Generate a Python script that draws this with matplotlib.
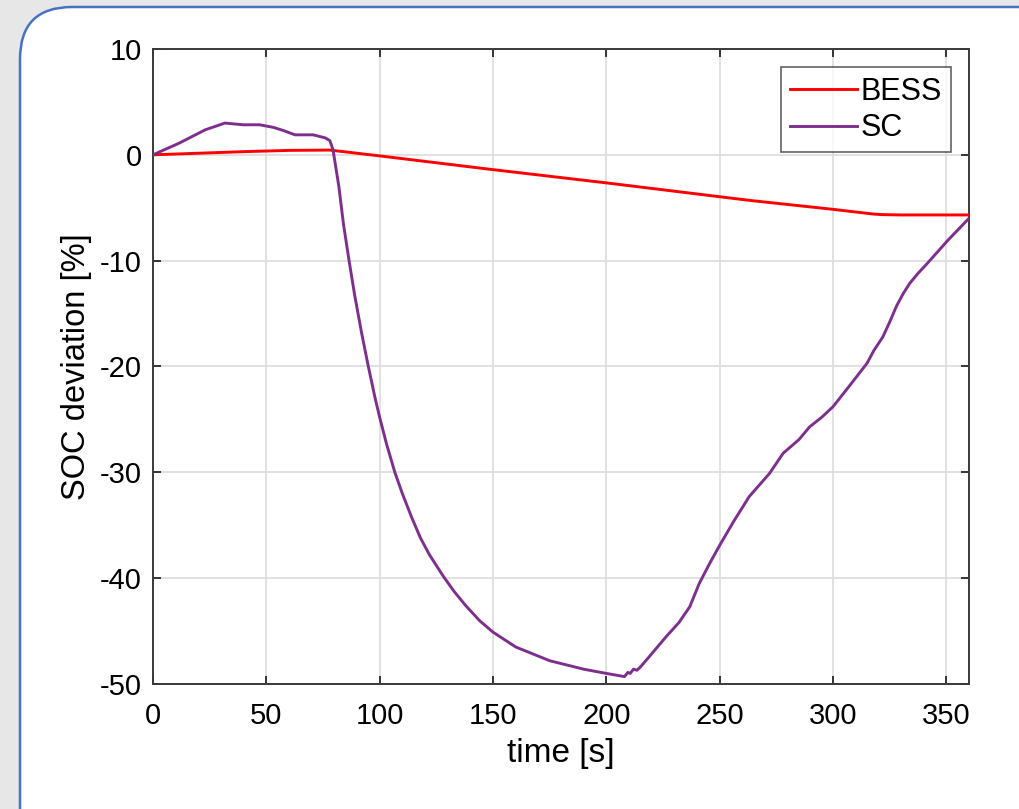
import matplotlib
matplotlib.use("Agg")
import matplotlib.pyplot as plt
from matplotlib.patches import FancyBboxPatch
from matplotlib.transforms import IdentityTransform

plt.rcParams['font.family'] = ['Liberation Sans', 'DejaVu Sans']
plt.rcParams['axes.unicode_minus'] = False

# Data
bess_t = [0, 20, 40, 60, 78, 100, 150, 200, 263, 300, 312, 318, 322, 330, 360]
bess_v = [0, 0.15, 0.3, 0.42, 0.45, -0.1, -1.4, -2.65, -4.3, -5.15, -5.45, -5.6, -5.65, -5.68, -5.68]

sc_t = [0, 11.5, 23, 31.7, 39.8, 47, 53, 57.5, 62.6, 70.7, 76, 78, 79.4, 82, 84, 86.5, 89, 92, 95,
        98, 100, 103, 106.7, 110, 114, 118, 122, 128, 133, 138, 144, 150, 160, 175, 190, 200,
        208, 209.5, 210.5, 212, 213.5, 215, 219, 226.5, 232, 236.8, 241, 245.6, 250, 256, 263, 272,
        278, 285, 289.7, 295, 300, 307, 315, 318, 322, 325, 328, 331, 334, 337.5, 341, 346, 351, 360]
sc_v = [0, 1.1, 2.36, 3.0, 2.84, 2.84, 2.6, 2.3, 1.89, 1.89, 1.6, 1.35, 0.5, -3.0, -6.5, -10, -13.3, -16.8, -20,
        -23, -24.8, -27.3, -30, -32.0, -34.2, -36.2, -37.8, -39.8, -41.3, -42.6, -44.0, -45.1, -46.5, -47.8, -48.6, -49.0,
        -49.3, -48.9, -49.0, -48.6, -48.7, -48.4, -47.4, -45.5, -44.2, -42.7, -40.5, -38.6, -36.9, -34.7, -32.3, -30.1,
        -28.2, -26.9, -25.7, -24.8, -23.8, -21.9, -19.7, -18.5, -17.2, -15.8, -14.3, -13.1, -12.1, -11.2, -10.4, -9.2, -8.0, -6.0]

xticks = [0, 50, 100, 150, 200, 250, 300, 350]
yticks = [10, 0, -10, -20, -30, -40, -50]

W, H = 1019, 809
fig = plt.figure(figsize=(W / 100, H / 100), dpi=100)
fig.patch.set_facecolor('#e7e7e7')

# rounded white panel with blue border (pixel coordinates)
box = FancyBboxPatch((20, -80), 1150, (H - 7) + 80,
                     boxstyle="round,pad=0,rounding_size=52",
                     transform=IdentityTransform(), facecolor='white',
                     edgecolor='#4472C4', linewidth=1.8, zorder=-5)
fig.patches.append(box)

ax = fig.add_axes([153 / W, 1 - 684 / H, (969 - 153) / W, (684 - 49) / H])
ax.set_zorder(2)
ax.set_facecolor('white')

ax.plot(bess_t, bess_v, color='#FF0000', lw=2.1, label='BESS', zorder=3)
ax.plot(sc_t, sc_v, color='#7E2F8E', lw=2.1, label='SC', zorder=3)

ax.set_xlim(0, 360)
ax.set_ylim(-50, 10)
ax.set_xticks(xticks)
ax.set_yticks(yticks)
ax.grid(True, color='#dedede', lw=1.3)
ax.set_axisbelow(True)
ax.tick_params(direction='in', top=True, right=True, length=6, width=1.3,
               labelsize=21, pad=8, colors='#262626', labelcolor='black')
ax.tick_params(axis='x', pad=13)
for s in ax.spines.values():
    s.set_color('#3a3a3a')
    s.set_linewidth(1.4)

ax.set_xlabel('time [s]', fontsize=24, labelpad=6)
ax.set_ylabel('SOC deviation [%]', fontsize=23.5, labelpad=6)

leg = ax.legend(loc='upper right', fontsize=22, frameon=True, fancybox=False,
                edgecolor='#3a3a3a', handlelength=2.2, borderaxespad=0.6,
                labelspacing=0.22, handletextpad=0.1, borderpad=0.3)
leg.get_frame().set_linewidth(1.2)

fig.savefig('out.png', dpi=100, facecolor=fig.get_facecolor())
